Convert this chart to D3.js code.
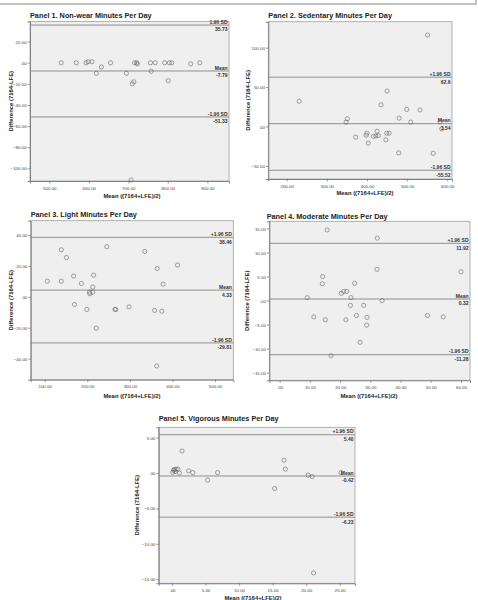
<!DOCTYPE html>
<html>
<head>
<meta charset="utf-8">
<script src="https://cdn.jsdelivr.net/npm/d3@7"></script>
<style>
    body { margin: 0; background: #fff; }
    svg { display: block; font-family: "Liberation Sans", Arial, sans-serif; }
    .tick-label { font-size: 4.4px; fill: #444; }
    .axis-label { font-size: 5.9px; font-weight: bold; fill: #222; }
    .panel-title { font-size: 7.3px; font-weight: bold; fill: #222; }
    .ref-label { font-size: 5px; font-weight: bold; fill: #333; }
</style>
</head>
<body>
<div id="chart"></div>
<script>
var width = 478
var height = 600

// data
const titles = [
    "Panel 1. Non-wear Minutes Per Day",
    "Panel 2. Sedentary Minutes Per Day",
    "Panel 3. Light Minutes Per Day",
    "Panel 4. Moderate Minutes Per Day",
    "Panel 5. Vigorous Minutes Per Day"
]
const upperNames = ["1.96 SD", "+1.96 SD", "+1.96 SD", "+1.96 SD", "+1.96 SD"]

const p1Mean = [530, 568, 593, 598, 608, 655, 716, 721, 723, 756, 768, 792, 804, 810, 858, 881, 632, 619, 695, 758, 714, 710, 801, 707]
const p1Diff = [0, 0, 0, 1, 1, 0, 0, 0, -1, 0, 0, 0, 0, 0, -1, 0, -4, -10, -10, -8, -18, -20, -17, -111]

const p2Mean = [551, 231, 435, 450, 499, 532, 480, 351, 348, 509, 582, 586, 425, 400, 398, 372, 416, 422, 428, 449, 455, 447, 403, 479, 565]
const p2Diff = [116, 32, 27.5, 45, 21.6, 21, 10.6, 9.8, 5.5, 5.5, 6, -3, -6, -8.5, -11, -13.5, -12.5, -12, -11.5, -8.5, -8.5, -17, -21, -33.4, -34]

const p3Mean = [106, 139, 139, 151, 168, 170, 186, 199, 205, 206, 213, 213, 215, 221, 246, 265, 267, 298, 335, 358, 364, 363, 375, 378, 412]
const p3Diff = [10.1, 30.4, 10.1, 25.4, 13.4, -5, 8.6, -8.2, 3, 2, 3, 6.3, 14, -20.3, 32.4, -8.1, -8.3, -6.5, 29.3, -8.8, 18.3, -44.7, -9.3, 8.2, 20.5]

const p4Mean = [15.7, 32.3, 32.2, 60, 14.2, 14.1, 24.8, 21.2, 22.2, 20.4, 23.6, 9.1, 33.9, 23.4, 27.8, 11.3, 25.4, 28.9, 48.9, 54.1, 15.1, 21.9, 28.8, 26.6, 17]
const p4Diff = [14.7, 13, 6.5, 6, 5, 3.5, 3.6, 1.9, 1.9, 1.5, 0.6, 0.6, 0, -1, -1, -3.4, -3.1, -3.5, -3.1, -3.4, -4, -4, -5.1, -8.7, -11.5]

const p5Mean = [1.5, 0.1, 0.25, 0.35, 0.45, 0.6, 0.9, 1.1, 2.5, 3.1, 5.3, 6.8, 15.3, 16.7, 16.9, 20.3, 20.9, 21.1, 25.2]
const p5Diff = [3.1, 0.1, 0.38, 0.5, 0.2, 0.55, 0.55, 0, 0.3, 0.05, -1, 0.05, -2.2, 1.8, 0.55, -0.3, -0.5, -14.1, 0.05]

const refLines = [
    [35.73, -7.79, -51.33],
    [62.6, 3.54, -55.52],
    [38.46, 4.33, -29.81],
    [11.92, 0.32, -11.28],
    [5.40, -0.42, -6.23]
]
const refText = [
    ["35.73", "-7.79", "-51.33"],
    ["62.6", "3.54", "-55.52"],
    ["38.46", "4.33", "-29.81"],
    ["11.92", "0.32", "-11.28"],
    ["5.40", "-0.42", "-6.23"]
]

const xTicks = [
    [500, 600, 700, 800, 900],
    [200, 300, 400, 500, 600],
    [100, 200, 300, 400, 500],
    [0, 10, 20, 30, 40, 50, 60],
    [0, 5, 10, 15, 20, 25]
]
const yTicks = [
    [20, 0, -20, -40, -60, -80, -100],
    [100, 50, 0, -50],
    [40, 20, 0, -20, -40],
    [15, 10, 5, 0, -5, -10, -15],
    [5, 0, -5, -10, -15]
]

// plot boxes and scale domains
const boxes = [
    {left: 30, top: 21.5, right: 229, bottom: 181, xd: [451.1, 954.9], yd: [39.1, -112]},
    {left: 268.3, top: 21.7, right: 452, bottom: 179, xd: [154.2, 611.7], yd: [132.9, -66.6]},
    {left: 30.7, top: 220.7, right: 233.3, bottom: 379.7, xd: [67.1, 542.9], yd: [49.2, -53.6]},
    {left: 269.3, top: 221.3, right: 470, bottom: 380.3, xd: [-3.44, 62.98], yd: [16.5, -16.6]},
    {left: 158.7, top: 427.3, right: 355, bottom: 583.3, xd: [-1.98, 27.28], yd: [6.45, -15.57]}
]
const titlePos = [[30, 17.5], [268.3, 18], [30.7, 217], [266.7, 219], [158.7, 420.5]]
const xLabelPos = [[132, 198], [365, 195], [132, 397.5], [369, 397.5], [253, 599.5]]
const yLabelX = [10.5, 247.5, 10.5, 247, 137]

var svg

createChart()

function fmt(v)
{
    var s = d3.format(".2f")(v)
    return s == "0.00" ? ".00" : s
}

function createChart()
{
    svg = d3.select("#chart")
        .append("svg")
        .attr("width", width)
        .attr("height", height)

    // frame remnant at the top
    svg.append("line")
        .attr("x1", 0).attr("x2", 476)
        .attr("y1", 4).attr("y2", 4)
        .attr("stroke", "#8a8a8a").attr("stroke-width", 1)
    svg.append("line")
        .attr("x1", 476).attr("x2", 476)
        .attr("y1", 0).attr("y2", 4.5)
        .attr("stroke", "#8a8a8a").attr("stroke-width", 1)

    var means = [p1Mean, p2Mean, p3Mean, p4Mean, p5Mean]
    var diffs = [p1Diff, p2Diff, p3Diff, p4Diff, p5Diff]

    for (var i = 0; i < 5; i++)
        drawPanel(i, means[i], diffs[i])
}

function drawPanel(i, xs, ys)
{
    var b = boxes[i]
    var xScale = d3.scaleLinear().domain(b.xd).range([b.left, b.right])
    var yScale = d3.scaleLinear().domain(b.yd).range([b.top, b.bottom])
    var g = svg.append("g")

    g.append("rect")
        .attr("x", b.left).attr("y", b.top)
        .attr("width", b.right - b.left).attr("height", b.bottom - b.top)
        .attr("fill", "#efefef")
        .attr("stroke", "#a0a0a0").attr("stroke-width", 0.8)

    g.append("text")
        .attr("class", "panel-title")
        .attr("x", titlePos[i][0]).attr("y", titlePos[i][1])
        .text(titles[i])

    // axes
    var xAxis = d3.axisBottom(xScale).tickValues(xTicks[i]).tickSize(2.5).tickFormat(fmt)
    var yAxis = d3.axisLeft(yScale).tickValues(yTicks[i]).tickSize(2.5).tickFormat(fmt)

    var gx = g.append("g")
        .attr("transform", "translate(0," + b.bottom + ")")
        .call(xAxis)
    var gy = g.append("g")
        .attr("transform", "translate(" + b.left + ",0)")
        .call(yAxis)

    ;[gx, gy].forEach(function(a)
    {
        a.select(".domain").attr("stroke", "#777").attr("stroke-width", 0.9)
        a.selectAll(".tick line").attr("stroke", "#666").attr("stroke-width", 0.6)
        a.selectAll(".tick text")
            .attr("class", "tick-label")
            .attr("font-family", null).attr("font-size", null)
    })
    gx.selectAll(".tick text").attr("dy", null).attr("y", 8.7)
    gy.selectAll(".tick text").attr("x", -3.4).attr("dy", "0.35em")

    g.append("text")
        .attr("class", "axis-label")
        .attr("x", xLabelPos[i][0]).attr("y", xLabelPos[i][1])
        .style("text-anchor", "middle")
        .text("Mean ((7164+LFE)/2)")
    g.append("text")
        .attr("class", "axis-label")
        .attr("transform", "translate(" + yLabelX[i] + "," + ((b.top + b.bottom) / 2) + ")rotate(-90)")
        .attr("dy", "0.35em")
        .style("text-anchor", "middle")
        .text("Difference (7164-LFE)")

    // reference lines
    var names = [upperNames[i], "Mean", "-1.96 SD"]
    g.selectAll(".ref")
        .data(refLines[i])
        .enter()
        .append("line")
        .attr("x1", b.left).attr("x2", b.right)
        .attr("y1", d => yScale(d)).attr("y2", d => yScale(d))
        .attr("stroke", "#858585").attr("stroke-width", 0.9)

    refLines[i].forEach(function(d, k)
    {
        g.append("text")
            .attr("class", "ref-label")
            .attr("x", b.right - 1.5).attr("y", yScale(d) - 1.3)
            .style("text-anchor", "end")
            .text(names[k])
        g.append("text")
            .attr("class", "ref-label")
            .attr("x", b.right - 1.5).attr("y", yScale(d) + 6.4)
            .style("text-anchor", "end")
            .text(refText[i][k])
    })

    g.selectAll(".pt")
        .data(xs)
        .enter()
        .append("circle")
        .attr("cx", d => xScale(d))
        .attr("cy", (d, k) => yScale(ys[k]))
        .attr("r", 2.1)
        .attr("fill", "none")
        .attr("stroke", "#5a5a5a")
        .attr("stroke-width", 0.55)
}
</script>
</body>
</html>
